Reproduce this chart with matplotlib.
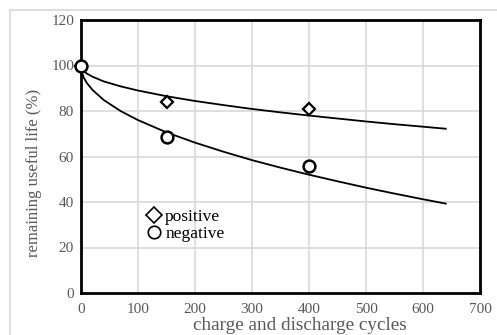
import matplotlib.pyplot as plt
from matplotlib.patches import Rectangle

plt.rcParams['font.family'] = ['Liberation Serif', 'DejaVu Serif']

# measured points
cycles = [0, 150, 400]
positive = [100, 84, 81]
negative = [100, 68.5, 56]

# fitted curves
curve_x = [0, 2, 5, 10, 20, 40, 70, 100, 150, 200, 250, 300, 350, 400, 450, 500, 550, 600, 640]
curve_pos = [100, 98.4, 97.5, 96.5, 95.1, 93.0, 90.8, 89.0, 86.5, 84.4, 82.6, 80.9, 79.4,
             78.0, 76.7, 75.4, 74.2, 73.1, 72.2]
curve_neg = [100, 96.6, 94.6, 92.4, 89.3, 84.8, 79.9, 76.0, 70.6, 66.1, 62.1, 58.4, 55.1,
             52.0, 49.1, 46.3, 43.7, 41.2, 39.3]

fig = plt.figure(figsize=(4.97, 3.35), dpi=100)
# light frame around the whole chart
fig.patches.append(Rectangle((9.5 / 497, -0.1), 1.2, 325 / 335 + 0.1,
                             transform=fig.transFigure, fill=False,
                             edgecolor='#d9d9d9', linewidth=1.2))

ax = fig.add_axes([81 / 497, 42 / 335, 399 / 497, 273 / 335])

ax.plot(curve_x, curve_pos, color='black', linewidth=1.3, zorder=3)
ax.plot(curve_x, curve_neg, color='black', linewidth=1.3, zorder=3)
ax.plot(cycles, positive, linestyle='none', marker='D', markersize=6.5,
        markerfacecolor='white', markeredgecolor='black', markeredgewidth=1.6,
        zorder=4, label='positive', clip_on=False)
ax.plot(cycles, negative, linestyle='none', marker='o', markersize=8.5,
        markerfacecolor='white', markeredgecolor='black', markeredgewidth=1.8,
        zorder=4, label='negative', clip_on=False)

ax.set_xlim(0, 700)
ax.set_ylim(0, 120)
ax.set_xticks(range(0, 701, 100))
ax.set_yticks(range(0, 121, 20))
ax.grid(True, color='#d9d9d9', linewidth=1.2)
ax.set_axisbelow(True)
for s in ax.spines.values():
    s.set_linewidth(2)
    s.set_color('black')
ax.tick_params(length=0, labelsize=11, labelcolor='#595959')
ax.tick_params(axis='x', pad=7)
ax.tick_params(axis='y', pad=5)

ax.set_xlabel('charge and discharge cycles', fontsize=13.8, color='#595959', labelpad=1)
ax.set_ylabel('remaining useful life (%)', fontsize=12, color='#595959')
ax.xaxis.label.set_x(0.549)
ax.yaxis.set_label_coords(-0.097, 0.44)

leg = ax.legend(loc='upper left', bbox_to_anchor=(0.15, 0.335), frameon=False,
                fontsize=12.5, handletextpad=0.25, labelspacing=0.05,
                handlelength=0.75, borderaxespad=0)
leg.legend_handles[0].set_markersize(8)
leg.legend_handles[1].set_markersize(9)
for h in leg.legend_handles:
    h.set_markeredgewidth(1.2)

fig.savefig('out.png', dpi=100)
